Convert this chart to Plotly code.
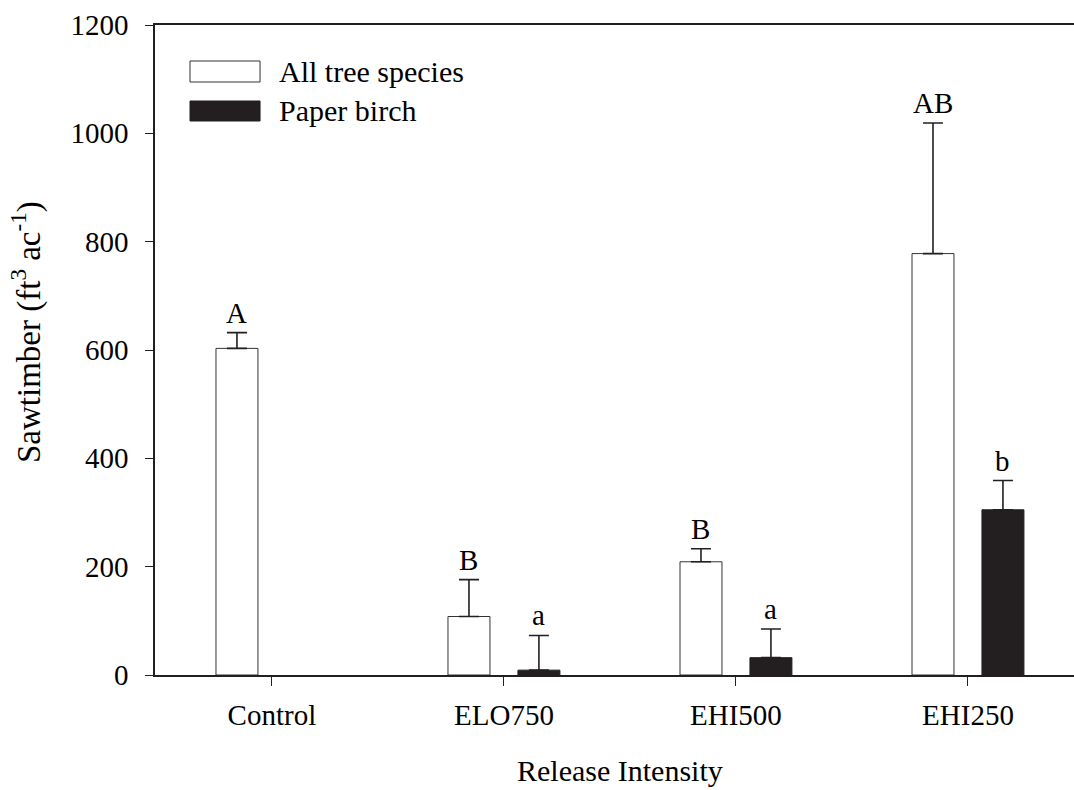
import plotly.graph_objects as go

categories = ["Control", "ELO750", "EHI500", "EHI250"]
all_mean = [603, 108, 209, 778]
all_se = [29, 68, 24, 241]
birch_mean = [None, 9, 32, 305]
birch_se = [None, 64, 53, 54]
all_letters = ["A", "B", "B", "AB"]
birch_letters = [None, "a", "a", "b"]
series_names = ["All tree species", "Paper birch"]
y_ticks = [0, 200, 400, 600, 800, 1000, 1200]

INK = "#231f20"
FONT = "Liberation Serif, Times New Roman, serif"
FS = 29

fig = go.Figure()
fig.add_trace(go.Bar(
    x=categories, y=all_mean, name=series_names[0],
    marker=dict(color="white", line=dict(color="#333333", width=1)),
    error_y=dict(type="data", symmetric=False, array=all_se,
                 arrayminus=[0] * len(all_se), color=INK, thickness=1.6, width=10),
    showlegend=False,
))
fig.add_trace(go.Bar(
    x=categories, y=birch_mean, name=series_names[1],
    marker=dict(color=INK, line=dict(color=INK, width=1)),
    error_y=dict(type="data", symmetric=False, array=[v if v is not None else 0 for v in birch_se],
                 arrayminus=[0] * len(birch_se), color=INK, thickness=1.6, width=10),
    showlegend=False,
))

annotations = []
for cat, m, s, lab in zip(categories, all_mean, all_se, all_letters):
    annotations.append(dict(x=cat, y=m + s, xref="x", yref="y", text=lab, showarrow=False,
                            xshift=-35, yshift=2, yanchor="bottom",
                            font=dict(family=FONT, size=FS, color="black")))
for cat, m, s, lab in zip(categories, birch_mean, birch_se, birch_letters):
    if lab is None:
        continue
    annotations.append(dict(x=cat, y=m + s, xref="x", yref="y", text=lab, showarrow=False,
                            xshift=35, yshift=2, yanchor="bottom",
                            font=dict(family=FONT, size=FS, color="black")))

# legend (custom, wide swatches)
shapes = [
    dict(type="rect", xref="paper", yref="paper", x0=0.0381, x1=0.1143, y0=0.9123, y1=0.9446,
         fillcolor="white", line=dict(color="#333333", width=1)),
    dict(type="rect", xref="paper", yref="paper", x0=0.0381, x1=0.1143, y0=0.8523, y1=0.8831,
         fillcolor=INK, line=dict(color=INK, width=1)),
]
annotations.append(dict(x=0.1328, y=0.9292, xref="paper", yref="paper", text=series_names[0],
                        showarrow=False, xanchor="left", yanchor="middle",
                        font=dict(family=FONT, size=30, color="black")))
annotations.append(dict(x=0.1328, y=0.8692, xref="paper", yref="paper", text=series_names[1],
                        showarrow=False, xanchor="left", yanchor="middle",
                        font=dict(family=FONT, size=30, color="black")))

# axis titles
annotations.append(dict(x=0.5, y=0, xref="paper", yref="paper", text="Release Intensity",
                        showarrow=False, xanchor="center", yanchor="bottom",
                        xshift=5, yshift=-114,
                        font=dict(family=FONT, size=30, color="black")))
annotations.append(dict(x=0, y=0.5277, xref="paper", yref="paper",
                        text="Sawtimber (ft<sup>3</sup> ac<sup>-1</sup>)",
                        showarrow=False, xanchor="center", yanchor="middle",
                        xshift=-128, textangle=-90,
                        font=dict(family=FONT, size=33, color="black")))

fig.update_layout(
    width=1074, height=790,
    margin=dict(l=155, r=0, t=25, b=115),
    paper_bgcolor="white", plot_bgcolor="white",
    barmode="group", bargap=0.397, bargroupgap=0.4,
    font=dict(family=FONT, size=FS, color="black"),
    annotations=annotations, shapes=shapes,
    showlegend=False,
)
fig.update_xaxes(
    type="category", range=[-0.504, 3.457],
    showline=True, linecolor=INK, linewidth=1.6, mirror=True,
    ticks="outside", ticklen=9, tickwidth=1.4, tickcolor=INK,
    showgrid=False, zeroline=False,
    tickfont=dict(family=FONT, size=FS, color="black"),
    ticklabelstandoff=4,
)
fig.update_yaxes(
    range=[0, 1200], tickvals=y_ticks,
    showline=True, linecolor=INK, linewidth=1.6,
    ticks="outside", ticklen=8, tickwidth=1.4, tickcolor=INK,
    showgrid=False, zeroline=False,
    tickfont=dict(family=FONT, size=FS, color="black"),
    ticklabelstandoff=11,
)

fig.write_html("out.html")
